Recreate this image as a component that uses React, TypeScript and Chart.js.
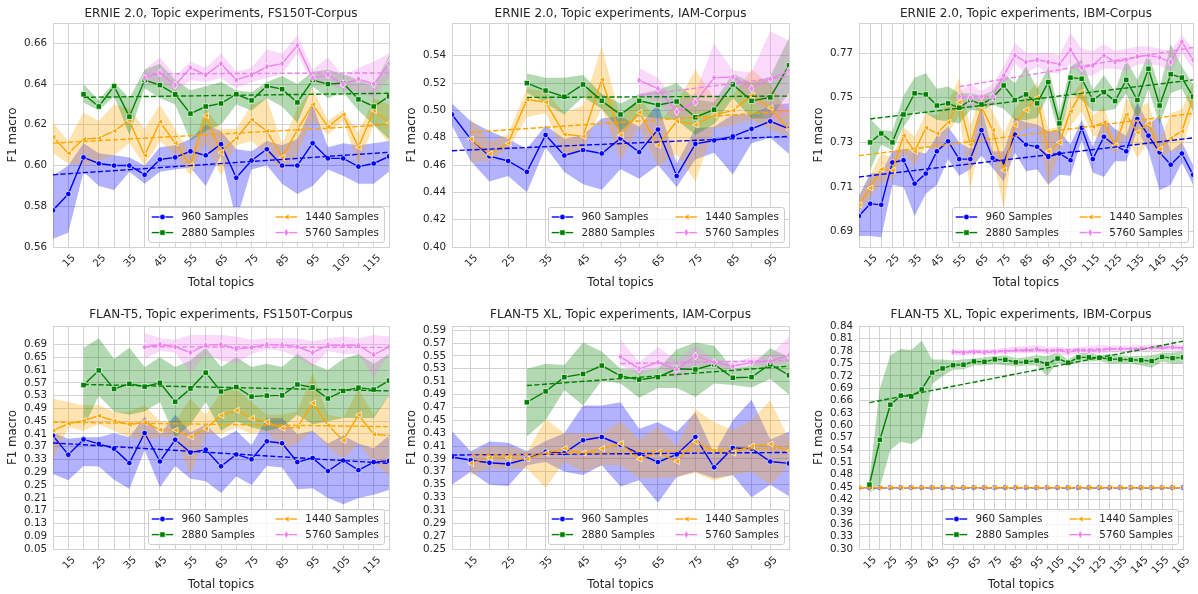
import React, { useEffect, useRef } from 'react';
import { Chart, registerables } from 'chart.js';

Chart.register(...registerables);
Chart.defaults.font.family = '"DejaVu Sans", sans-serif';

// ------------------------------------------------------------------ data
const seriesLabels = ['960 Samples', '1440 Samples', '2880 Samples', '5760 Samples'];
const xAxisLabel = 'Total topics';
const yAxisLabel = 'F1 macro';

// Panel 1 — ERNIE 2.0, FS150T
const p1Title = 'ERNIE 2.0, Topic experiments, FS150T-Corpus';
const p1X = [10, 15, 20, 25, 30, 35, 40, 45, 50, 55, 60, 65, 70, 75, 80, 85, 90, 95, 100, 105, 110, 115, 120];
const p1XLabels = [15, 25, 35, 45, 55, 65, 75, 85, 95, 105, 115];
const p1YTicks = [0.56, 0.58, 0.60, 0.62, 0.64, 0.66];
const p1Blue = [0.578, 0.586, 0.604, 0.601, 0.600, 0.600, 0.5955, 0.603, 0.604, 0.607, 0.605, 0.6105, 0.594, 0.6025, 0.608, 0.600, 0.600, 0.611, 0.6035, 0.6035, 0.5995, 0.601, 0.6045];
const p1BlueLo = [0.564, 0.567, 0.597, 0.590, 0.588, 0.597, 0.591, 0.597, 0.598, 0.599, 0.590, 0.605, 0.573, 0.598, 0.600, 0.591, 0.586, 0.590, 0.598, 0.595, 0.591, 0.591, 0.597];
const p1BlueHi = [0.595, 0.600, 0.611, 0.606, 0.605, 0.604, 0.600, 0.609, 0.610, 0.613, 0.620, 0.617, 0.608, 0.607, 0.612, 0.610, 0.613, 0.630, 0.609, 0.611, 0.610, 0.611, 0.612];
const p1Orange = [0.614, 0.606, 0.613, 0.6135, 0.617, 0.622, 0.605, 0.6215, 0.611, 0.600, 0.6245, 0.6065, 0.6135, 0.6225, 0.617, 0.604, 0.6175, 0.630, 0.619, 0.625, 0.609, 0.627, 0.621];
const p1OrangeLo = [0.606, 0.601, 0.600, 0.602, 0.605, 0.611, 0.600, 0.612, 0.605, 0.595, 0.611, 0.595, 0.610, 0.612, 0.605, 0.597, 0.606, 0.622, 0.615, 0.622, 0.600, 0.620, 0.611];
const p1OrangeHi = [0.621, 0.612, 0.626, 0.622, 0.630, 0.628, 0.618, 0.630, 0.618, 0.606, 0.628, 0.618, 0.618, 0.630, 0.633, 0.611, 0.628, 0.638, 0.622, 0.627, 0.616, 0.633, 0.630];
const p1Green = [null, null, 0.635, 0.629, 0.639, 0.624, 0.642, 0.6395, 0.635, 0.6255, 0.629, 0.6305, 0.635, 0.632, 0.639, 0.6375, 0.631, 0.642, 0.640, 0.6405, 0.6325, 0.629, 0.634];
const p1GreenLo = [null, null, 0.631, 0.627, 0.634, 0.615, 0.638, 0.633, 0.630, 0.612, 0.617, 0.620, 0.630, 0.627, 0.633, 0.629, 0.621, 0.639, 0.633, 0.636, 0.627, 0.620, 0.613];
const p1GreenHi = [null, null, 0.640, 0.632, 0.641, 0.633, 0.647, 0.650, 0.642, 0.637, 0.639, 0.641, 0.637, 0.636, 0.641, 0.644, 0.640, 0.646, 0.647, 0.645, 0.642, 0.639, 0.654];
const p1Pink = [null, null, null, null, null, null, 0.643, 0.6455, 0.6395, 0.648, 0.6445, 0.650, 0.642, 0.6445, 0.6485, 0.650, 0.659, 0.643, 0.6445, 0.640, 0.6425, 0.640, 0.650];
const p1PinkLo = [null, null, null, null, null, null, 0.640, 0.641, 0.636, 0.642, 0.641, 0.643, 0.638, 0.641, 0.643, 0.645, 0.655, 0.640, 0.640, 0.637, 0.636, 0.633, 0.643];
const p1PinkHi = [null, null, null, null, null, null, 0.647, 0.653, 0.644, 0.651, 0.648, 0.655, 0.646, 0.648, 0.657, 0.655, 0.664, 0.647, 0.653, 0.644, 0.648, 0.651, 0.655];
const p1BlueTrend = [0.5955, 0.6065];
const p1OrangeTrend = [0.611, 0.620];
const p1GreenTrend = [0.6335, 0.6355];
const p1PinkTrend = [0.645, 0.6455];

// Panel 2 — ERNIE 2.0, IAM
const p2Title = 'ERNIE 2.0, Topic experiments, IAM-Corpus';
const p2X = [10, 15, 20, 25, 30, 35, 40, 45, 50, 55, 60, 65, 70, 75, 80, 85, 90, 95, 100];
const p2XLabels = [15, 25, 35, 45, 55, 65, 75, 85, 95];
const p2YTicks = [0.40, 0.42, 0.44, 0.46, 0.48, 0.50, 0.52, 0.54];
const p2Blue = [0.497, 0.479, 0.4665, 0.463, 0.455, 0.482, 0.467, 0.471, 0.4685, 0.4795, 0.4695, 0.486, 0.452, 0.4755, 0.478, 0.481, 0.4865, 0.492, 0.4865];
const p2BlueLo = [0.489, 0.463, 0.448, 0.452, 0.440, 0.473, 0.455, 0.446, 0.442, 0.457, 0.450, 0.460, 0.444, 0.464, 0.469, 0.453, 0.476, 0.480, 0.468];
const p2BlueHi = [0.505, 0.492, 0.485, 0.479, 0.472, 0.489, 0.479, 0.482, 0.494, 0.496, 0.488, 0.505, 0.461, 0.487, 0.488, 0.497, 0.497, 0.504, 0.505];
const p2Orange = [null, 0.479, 0.468, 0.476, 0.508, 0.506, 0.4825, 0.481, 0.5225, 0.482, 0.4985, 0.4745, 0.492, 0.4895, 0.4965, 0.500, 0.511, 0.502, 0.486];
const p2OrangeLo = [null, 0.462, 0.463, 0.472, 0.495, 0.498, 0.466, 0.471, 0.502, 0.463, 0.488, 0.459, 0.468, 0.448, 0.487, 0.489, 0.493, 0.486, 0.481];
const p2OrangeHi = [null, 0.494, 0.477, 0.483, 0.516, 0.514, 0.498, 0.504, 0.547, 0.494, 0.510, 0.491, 0.505, 0.530, 0.509, 0.511, 0.530, 0.519, 0.497];
const p2Green = [null, null, null, null, 0.520, 0.5145, 0.510, 0.519, 0.507, 0.497, 0.507, 0.504, 0.5065, 0.495, 0.5005, 0.519, 0.507, 0.5095, 0.533];
const p2GreenLo = [null, null, null, null, 0.513, 0.505, 0.497, 0.510, 0.501, 0.485, 0.496, 0.494, 0.493, 0.482, 0.490, 0.509, 0.494, 0.494, 0.513];
const p2GreenHi = [null, null, null, null, 0.527, 0.524, 0.524, 0.526, 0.512, 0.505, 0.512, 0.515, 0.520, 0.508, 0.506, 0.527, 0.520, 0.525, 0.553];
const p2Pink = [null, null, null, null, null, null, null, null, null, null, 0.522, 0.516, 0.499, 0.506, 0.524, 0.5245, 0.516, 0.523, 0.529];
const p2PinkLo = [null, null, null, null, null, null, null, null, null, null, 0.512, 0.505, 0.491, 0.499, 0.500, 0.520, 0.507, 0.490, 0.498];
const p2PinkHi = [null, null, null, null, null, null, null, null, null, null, 0.531, 0.524, 0.506, 0.513, 0.549, 0.529, 0.528, 0.558, 0.551];
const p2BlueTrend = [0.4705, 0.481];
const p2OrangeTrend = [0.484, 0.4995];
const p2GreenTrend = [0.5095, 0.5105];
const p2PinkTrend = [0.511, 0.525];

// Panel 3 — ERNIE 2.0, IBM
const p3Title = 'ERNIE 2.0, Topic experiments, IBM-Corpus';
const p3X = [10, 15, 20, 25, 30, 35, 40, 45, 50, 55, 60, 65, 70, 75, 80, 85, 90, 95, 100, 105, 110, 115, 120, 125, 130, 135, 140, 145, 150, 155, 160];
const p3XLabels = [15, 25, 35, 45, 55, 65, 75, 85, 95, 105, 115, 125, 135, 145, 155];
const p3YTicks = [0.69, 0.71, 0.73, 0.75, 0.77];
const p3Blue = [0.697, 0.7025, 0.702, 0.721, 0.722, 0.7115, 0.716, 0.726, 0.7305, 0.7225, 0.7225, 0.7355, 0.723, 0.721, 0.7335, 0.729, 0.728, 0.7235, 0.725, 0.722, 0.7365, 0.7225, 0.7325, 0.7285, 0.726, 0.7405, 0.733, 0.7255, 0.720, 0.725, 0.7155];
const p3BlueLo = [0.688, 0.688, 0.6875, 0.711, 0.710, 0.697, 0.707, 0.711, 0.7225, 0.715, 0.718, 0.724, 0.7185, 0.7125, 0.7255, 0.717, 0.718, 0.711, 0.7155, 0.715, 0.731, 0.7165, 0.7145, 0.7215, 0.7215, 0.7355, 0.726, 0.7085, 0.711, 0.721, 0.711];
const p3BlueHi = [0.706, 0.716, 0.7165, 0.726, 0.727, 0.726, 0.725, 0.733, 0.737, 0.730, 0.727, 0.746, 0.726, 0.726, 0.741, 0.739, 0.738, 0.735, 0.735, 0.729, 0.740, 0.728, 0.7405, 0.736, 0.733, 0.748, 0.738, 0.742, 0.726, 0.730, 0.720];
const p3Orange = [0.702, 0.7095, 0.718, 0.7175, 0.733, 0.726, 0.7365, 0.734, 0.739, 0.748, 0.729, 0.746, 0.7355, 0.7175, 0.738, 0.7445, 0.750, 0.726, 0.730, 0.744, 0.7525, 0.737, 0.739, 0.7285, 0.7425, 0.7345, 0.7385, 0.727, 0.732, 0.735, 0.750];
const p3OrangeLo = [0.699, 0.705, 0.712, 0.713, 0.725, 0.7195, 0.728, 0.726, 0.734, 0.742, 0.709, 0.734, 0.724, 0.700, 0.733, 0.736, 0.737, 0.710, 0.726, 0.737, 0.744, 0.733, 0.7315, 0.7245, 0.733, 0.723, 0.730, 0.7225, 0.726, 0.727, 0.7435];
const p3OrangeHi = [0.706, 0.715, 0.725, 0.723, 0.737, 0.7325, 0.743, 0.742, 0.748, 0.759, 0.737, 0.753, 0.744, 0.734, 0.745, 0.751, 0.757, 0.736, 0.737, 0.750, 0.757, 0.742, 0.746, 0.731, 0.750, 0.745, 0.748, 0.730, 0.743, 0.745, 0.757];
const p3Green = [null, 0.730, 0.734, 0.730, 0.7425, 0.752, 0.7515, 0.7465, 0.7475, 0.7455, 0.749, 0.747, 0.750, 0.7555, 0.749, 0.7515, 0.7475, 0.757, 0.7385, 0.759, 0.7585, 0.749, 0.7525, 0.7485, 0.758, 0.749, 0.763, 0.7465, 0.7605, 0.759, 0.7505];
const p3GreenLo = [null, 0.7175, 0.729, 0.7265, 0.737, 0.744, 0.743, 0.740, 0.7395, 0.7385, 0.7445, 0.744, 0.747, 0.745, 0.740, 0.740, 0.741, 0.751, 0.733, 0.752, 0.749, 0.744, 0.744, 0.745, 0.752, 0.740, 0.754, 0.738, 0.752, 0.754, 0.744];
const p3GreenHi = [null, 0.7405, 0.7355, 0.735, 0.751, 0.759, 0.761, 0.754, 0.755, 0.752, 0.752, 0.751, 0.753, 0.761, 0.7565, 0.764, 0.754, 0.7635, 0.743, 0.764, 0.767, 0.7535, 0.760, 0.753, 0.767, 0.758, 0.770, 0.754, 0.774, 0.764, 0.756];
const p3Pink = [null, null, null, null, null, null, null, null, null, 0.7505, 0.750, 0.7505, 0.7505, 0.760, 0.769, 0.766, 0.767, 0.766, 0.765, 0.7715, 0.7635, 0.7645, 0.769, 0.766, 0.767, 0.7685, 0.769, 0.768, 0.766, 0.775, 0.767];
const p3PinkLo = [null, null, null, null, null, null, null, null, null, 0.747, 0.745, 0.7475, 0.746, 0.755, 0.765, 0.761, 0.764, 0.761, 0.761, 0.765, 0.760, 0.760, 0.763, 0.763, 0.762, 0.765, 0.765, 0.7645, 0.762, 0.770, 0.763];
const p3PinkHi = [null, null, null, null, null, null, null, null, null, 0.753, 0.756, 0.753, 0.756, 0.764, 0.7745, 0.770, 0.770, 0.770, 0.769, 0.779, 0.772, 0.771, 0.774, 0.771, 0.772, 0.773, 0.773, 0.772, 0.771, 0.778, 0.772];
const p3BlueTrend = [0.7145, 0.732];
const p3OrangeTrend = [0.724, 0.743];
const p3GreenTrend = [0.7405, 0.758];
const p3PinkTrend = [0.755, 0.7725];

// Panel 4 — FLAN-T5, FS150T
const p4Title = 'FLAN-T5, Topic experiments, FS150T-Corpus';
const p4X = [10, 15, 20, 25, 30, 35, 40, 45, 50, 55, 60, 65, 70, 75, 80, 85, 90, 95, 100, 105, 110, 115, 120];
const p4XLabels = [15, 25, 35, 45, 55, 65, 75, 85, 95, 105, 115];
const p4YTicks = [0.05, 0.09, 0.13, 0.17, 0.21, 0.25, 0.29, 0.33, 0.37, 0.41, 0.45, 0.49, 0.53, 0.57, 0.61, 0.65, 0.69];
const p4Blue = [0.405, 0.345, 0.393, 0.379, 0.364, 0.319, 0.413, 0.324, 0.392, 0.352, 0.361, 0.309, 0.346, 0.331, 0.387, 0.381, 0.322, 0.335, 0.294, 0.327, 0.297, 0.322, 0.326];
const p4BlueLo = [0.285, 0.265, 0.310, 0.308, 0.267, 0.238, 0.360, 0.243, 0.310, 0.270, 0.262, 0.225, 0.277, 0.250, 0.310, 0.305, 0.237, 0.240, 0.210, 0.190, 0.210, 0.220, 0.235];
const p4BlueHi = [0.415, 0.395, 0.400, 0.400, 0.412, 0.400, 0.465, 0.410, 0.470, 0.415, 0.440, 0.395, 0.420, 0.375, 0.460, 0.460, 0.410, 0.420, 0.380, 0.405, 0.380, 0.365, 0.405];
const p4Orange = [0.421, 0.442, 0.452, 0.467, 0.451, 0.439, 0.447, 0.423, 0.422, 0.401, 0.427, 0.468, 0.484, 0.459, 0.448, 0.428, 0.431, 0.507, 0.437, 0.390, 0.470, 0.409, 0.405];
const p4OrangeLo = [0.330, 0.430, 0.420, 0.440, 0.420, 0.400, 0.390, 0.400, 0.400, 0.280, 0.410, 0.410, 0.430, 0.410, 0.420, 0.360, 0.380, 0.420, 0.370, 0.330, 0.380, 0.320, 0.280];
const p4OrangeHi = [0.520, 0.510, 0.500, 0.500, 0.480, 0.480, 0.500, 0.450, 0.450, 0.520, 0.470, 0.540, 0.550, 0.510, 0.470, 0.470, 0.480, 0.600, 0.470, 0.460, 0.550, 0.470, 0.530];
const p4Green = [null, null, 0.563, 0.609, 0.551, 0.567, 0.558, 0.570, 0.511, 0.552, 0.602, 0.543, 0.557, 0.527, 0.530, 0.531, 0.565, 0.556, 0.521, 0.545, 0.555, 0.549, 0.577];
const p4GreenLo = [null, null, 0.430, 0.530, 0.480, 0.470, 0.480, 0.510, 0.400, 0.440, 0.510, 0.420, 0.450, 0.430, 0.420, 0.430, 0.470, 0.440, 0.450, 0.460, 0.460, 0.460, 0.530];
const p4GreenHi = [null, null, 0.680, 0.710, 0.645, 0.680, 0.620, 0.650, 0.620, 0.640, 0.680, 0.620, 0.650, 0.620, 0.630, 0.620, 0.660, 0.630, 0.610, 0.645, 0.660, 0.630, 0.660];
const p4Pink = [null, null, null, null, null, null, 0.682, 0.690, 0.683, 0.665, 0.688, 0.690, 0.676, 0.681, 0.690, 0.689, 0.683, 0.665, 0.688, 0.687, 0.687, 0.658, 0.683];
const p4PinkLo = [null, null, null, null, null, null, 0.645, 0.670, 0.665, 0.600, 0.660, 0.640, 0.630, 0.660, 0.675, 0.670, 0.650, 0.620, 0.670, 0.660, 0.660, 0.585, 0.660];
const p4PinkHi = [null, null, null, null, null, null, 0.725, 0.710, 0.705, 0.720, 0.720, 0.720, 0.715, 0.705, 0.710, 0.710, 0.710, 0.700, 0.710, 0.715, 0.710, 0.720, 0.715];
const p4BlueTrend = [0.382, 0.318];
const p4OrangeTrend = [0.447, 0.433];
const p4GreenTrend = [0.565, 0.545];
const p4PinkTrend = [0.683, 0.681];

// Panel 5 — FLAN-T5 XL, IAM
const p5Title = 'FLAN-T5 XL, Topic experiments, IAM-Corpus';
const p5X = [10, 15, 20, 25, 30, 35, 40, 45, 50, 55, 60, 65, 70, 75, 80, 85, 90, 95, 100];
const p5XLabels = [15, 25, 35, 45, 55, 65, 75, 85, 95];
const p5YTicks = [0.25, 0.27, 0.29, 0.31, 0.33, 0.35, 0.37, 0.39, 0.41, 0.43, 0.45, 0.47, 0.49, 0.51, 0.53, 0.55, 0.57, 0.59];
const p5Blue = [0.393, 0.388, 0.384, 0.382, 0.390, 0.401, 0.399, 0.419, 0.424, 0.412, 0.398, 0.385, 0.397, 0.424, 0.377, 0.407, 0.406, 0.386, 0.383];
const p5BlueLo = [0.350, 0.370, 0.350, 0.348, 0.380, 0.385, 0.370, 0.365, 0.380, 0.347, 0.357, 0.322, 0.362, 0.370, 0.360, 0.365, 0.330, 0.350, 0.332];
const p5BlueHi = [0.433, 0.402, 0.417, 0.415, 0.402, 0.418, 0.430, 0.473, 0.473, 0.478, 0.437, 0.447, 0.432, 0.462, 0.398, 0.450, 0.482, 0.420, 0.432];
const p5Orange = [null, 0.383, 0.392, 0.392, 0.390, 0.399, 0.406, 0.399, 0.406, 0.414, 0.390, 0.400, 0.386, 0.417, 0.402, 0.399, 0.410, 0.413, 0.402];
const p5OrangeLo = [null, 0.365, 0.375, 0.375, 0.375, 0.345, 0.385, 0.370, 0.380, 0.380, 0.360, 0.360, 0.362, 0.368, 0.356, 0.365, 0.370, 0.350, 0.380];
const p5OrangeHi = [null, 0.400, 0.410, 0.410, 0.400, 0.452, 0.430, 0.430, 0.430, 0.448, 0.420, 0.440, 0.410, 0.467, 0.447, 0.435, 0.450, 0.481, 0.420];
const p5Green = [null, null, null, null, 0.478, 0.495, 0.517, 0.522, 0.535, 0.519, 0.513, 0.517, 0.530, 0.529, 0.537, 0.516, 0.517, 0.537, 0.520];
const p5GreenLo = [null, null, null, null, 0.425, 0.450, 0.497, 0.473, 0.512, 0.507, 0.485, 0.500, 0.500, 0.486, 0.507, 0.505, 0.501, 0.514, 0.490];
const p5GreenHi = [null, null, null, null, 0.530, 0.538, 0.536, 0.571, 0.557, 0.530, 0.528, 0.530, 0.560, 0.571, 0.566, 0.530, 0.535, 0.562, 0.548];
const p5Pink = [null, null, null, null, null, null, null, null, null, 0.549, 0.530, 0.540, 0.529, 0.550, 0.540, 0.534, 0.540, 0.542, 0.551];
const p5PinkLo = [null, null, null, null, null, null, null, null, null, 0.536, 0.520, 0.532, 0.515, 0.533, 0.535, 0.528, 0.536, 0.533, 0.541];
const p5PinkHi = [null, null, null, null, null, null, null, null, null, 0.575, 0.540, 0.564, 0.543, 0.567, 0.545, 0.540, 0.548, 0.552, 0.580];
const p5BlueTrend = [0.396, 0.400];
const p5OrangeTrend = [0.395, 0.407];
const p5GreenTrend = [0.504, 0.534];
const p5PinkTrend = [0.538, 0.543];

// Panel 6 — FLAN-T5 XL, IBM
const p6Title = 'FLAN-T5 XL, Topic experiments, IBM-Corpus';
const p6X = [10, 15, 20, 25, 30, 35, 40, 45, 50, 55, 60, 65, 70, 75, 80, 85, 90, 95, 100, 105, 110, 115, 120, 125, 130, 135, 140, 145, 150, 155, 160, 165];
const p6XLabels = [15, 25, 35, 45, 55, 65, 75, 85, 95, 105, 115, 125, 135, 145, 155, 165];
const p6YTicks = [0.30, 0.33, 0.36, 0.39, 0.42, 0.45, 0.48, 0.51, 0.54, 0.57, 0.60, 0.63, 0.66, 0.69, 0.72, 0.75, 0.78, 0.81, 0.84];
const p6Blue = [0.449, 0.449, 0.449, 0.449, 0.449, 0.449, 0.449, 0.449, 0.449, 0.449, 0.449, 0.449, 0.449, 0.449, 0.449, 0.449, 0.449, 0.449, 0.449, 0.449, 0.449, 0.449, 0.449, 0.449, 0.449, 0.449, 0.449, 0.449, 0.449, 0.449, 0.449, 0.449];
const p6Orange = [0.449, 0.449, 0.449, 0.449, 0.449, 0.449, 0.449, 0.449, 0.449, 0.449, 0.449, 0.449, 0.449, 0.449, 0.449, 0.449, 0.449, 0.449, 0.449, 0.449, 0.449, 0.449, 0.449, 0.449, 0.449, 0.449, 0.449, 0.449, 0.449, 0.449, 0.449, 0.449];
const p6Green = [null, 0.456, 0.565, 0.650, 0.672, 0.670, 0.687, 0.728, 0.738, 0.746, 0.747, 0.755, 0.754, 0.760, 0.759, 0.753, 0.754, 0.757, 0.749, 0.762, 0.752, 0.765, 0.765, 0.764, 0.761, 0.760, 0.759, 0.758, 0.756, 0.766, 0.763, 0.765];
const p6GreenLo = [null, 0.437, 0.450, 0.540, 0.560, 0.555, 0.570, 0.700, 0.720, 0.735, 0.736, 0.745, 0.745, 0.748, 0.746, 0.743, 0.745, 0.745, 0.720, 0.752, 0.745, 0.755, 0.755, 0.756, 0.750, 0.750, 0.750, 0.745, 0.740, 0.755, 0.750, 0.750];
const p6GreenHi = [null, 0.470, 0.690, 0.770, 0.785, 0.783, 0.805, 0.760, 0.760, 0.757, 0.760, 0.762, 0.765, 0.768, 0.770, 0.763, 0.765, 0.770, 0.768, 0.776, 0.760, 0.774, 0.776, 0.770, 0.773, 0.770, 0.768, 0.768, 0.770, 0.776, 0.776, 0.780];
const p6Pink = [null, null, null, null, null, null, null, null, null, 0.778, 0.776, 0.778, 0.777, 0.778, 0.780, 0.783, 0.783, 0.785, 0.781, 0.782, 0.778, 0.782, 0.781, 0.782, 0.785, 0.786, 0.785, 0.786, 0.788, 0.789, 0.790, 0.787];
const p6PinkLo = [null, null, null, null, null, null, null, null, null, 0.770, 0.770, 0.772, 0.771, 0.772, 0.773, 0.775, 0.775, 0.776, 0.772, 0.773, 0.770, 0.774, 0.773, 0.774, 0.777, 0.778, 0.777, 0.778, 0.780, 0.781, 0.782, 0.779];
const p6PinkHi = [null, null, null, null, null, null, null, null, null, 0.785, 0.783, 0.785, 0.784, 0.785, 0.788, 0.792, 0.792, 0.795, 0.790, 0.791, 0.787, 0.790, 0.792, 0.795, 0.793, 0.794, 0.793, 0.794, 0.796, 0.797, 0.798, 0.795];
const p6BlueTrend = [0.449, 0.449];
const p6OrangeTrend = [0.449, 0.449];
const p6GreenTrend = [0.655, 0.804];
const p6PinkTrend = [0.7785, 0.7885];

// ------------------------------------------------------------------ styles
const COLORS = ['#0000ff', '#ffa500', '#008000', '#ee82ee'];
const BANDS = ['rgba(0,0,255,0.3)', 'rgba(255,165,0,0.3)', 'rgba(0,128,0,0.3)', 'rgba(238,130,238,0.3)'];
const MARKERS = ['circle', 'triangleLeft', 'square', 'thinDiamond'];
const TEXT = '#262626';
const GRID = '#d2d2d2';
const TICK_FONT = 10.3;
const LABEL_FONT = 11.8;
const TITLE_FONT = 12;
const LINE_W = 1.4;
const Y_AXIS_W = 53;

const panels: any[] = [
  { title: p1Title, x: p1X, xLabels: p1XLabels, yMin: 0.56, yMax: 0.670, yTicks: p1YTicks,
    series: [
      { y: p1Blue, lo: p1BlueLo, hi: p1BlueHi, trend: p1BlueTrend },
      { y: p1Orange, lo: p1OrangeLo, hi: p1OrangeHi, trend: p1OrangeTrend },
      { y: p1Green, lo: p1GreenLo, hi: p1GreenHi, trend: p1GreenTrend },
      { y: p1Pink, lo: p1PinkLo, hi: p1PinkHi, trend: p1PinkTrend },
    ] },
  { title: p2Title, x: p2X, xLabels: p2XLabels, yMin: 0.40, yMax: 0.564, yTicks: p2YTicks,
    series: [
      { y: p2Blue, lo: p2BlueLo, hi: p2BlueHi, trend: p2BlueTrend },
      { y: p2Orange, lo: p2OrangeLo, hi: p2OrangeHi, trend: p2OrangeTrend },
      { y: p2Green, lo: p2GreenLo, hi: p2GreenHi, trend: p2GreenTrend },
      { y: p2Pink, lo: p2PinkLo, hi: p2PinkHi, trend: p2PinkTrend },
    ] },
  { title: p3Title, x: p3X, xLabels: p3XLabels, yMin: 0.6831, yMax: 0.7835, yTicks: p3YTicks,
    series: [
      { y: p3Blue, lo: p3BlueLo, hi: p3BlueHi, trend: p3BlueTrend },
      { y: p3Orange, lo: p3OrangeLo, hi: p3OrangeHi, trend: p3OrangeTrend },
      { y: p3Green, lo: p3GreenLo, hi: p3GreenHi, trend: p3GreenTrend },
      { y: p3Pink, lo: p3PinkLo, hi: p3PinkHi, trend: p3PinkTrend },
    ] },
  { title: p4Title, x: p4X, xLabels: p4XLabels, yMin: 0.05, yMax: 0.748, yTicks: p4YTicks,
    series: [
      { y: p4Blue, lo: p4BlueLo, hi: p4BlueHi, trend: p4BlueTrend },
      { y: p4Orange, lo: p4OrangeLo, hi: p4OrangeHi, trend: p4OrangeTrend },
      { y: p4Green, lo: p4GreenLo, hi: p4GreenHi, trend: p4GreenTrend },
      { y: p4Pink, lo: p4PinkLo, hi: p4PinkHi, trend: p4PinkTrend },
    ] },
  { title: p5Title, x: p5X, xLabels: p5XLabels, yMin: 0.25, yMax: 0.5965, yTicks: p5YTicks,
    series: [
      { y: p5Blue, lo: p5BlueLo, hi: p5BlueHi, trend: p5BlueTrend },
      { y: p5Orange, lo: p5OrangeLo, hi: p5OrangeHi, trend: p5OrangeTrend },
      { y: p5Green, lo: p5GreenLo, hi: p5GreenHi, trend: p5GreenTrend },
      { y: p5Pink, lo: p5PinkLo, hi: p5PinkHi, trend: p5PinkTrend },
    ] },
  { title: p6Title, x: p6X, xLabels: p6XLabels, yMin: 0.30, yMax: 0.841, yTicks: p6YTicks,
    series: [
      { y: p6Blue, lo: null, hi: null, trend: p6BlueTrend },
      { y: p6Orange, lo: null, hi: null, trend: p6OrangeTrend },
      { y: p6Green, lo: p6GreenLo, hi: p6GreenHi, trend: p6GreenTrend },
      { y: p6Pink, lo: p6PinkLo, hi: p6PinkHi, trend: p6PinkTrend },
    ] },
];

// plot-area boxes (page pixels)
const boxes = [
  { pl: 53, pr: 389, pt: 23, pb: 247, ct: 0, cb: 298, titleY: 14 },
  { pl: 452, pr: 789, pt: 23, pb: 247, ct: 0, cb: 298, titleY: 14 },
  { pl: 859, pr: 1193, pt: 23, pb: 247, ct: 0, cb: 298, titleY: 14 },
  { pl: 53, pr: 389, pt: 326, pb: 549, ct: 302, cb: 594, titleY: 315 },
  { pl: 452, pr: 789, pt: 326, pb: 549, ct: 302, cb: 594, titleY: 315 },
  { pl: 859, pr: 1183, pt: 326, pb: 549, ct: 302, cb: 594, titleY: 315 },
];

// ------------------------------------------------------------------ drawing helpers
function drawMarker(ctx: CanvasRenderingContext2D, kind: string, x: number, y: number, color: string) {
  ctx.save();
  ctx.fillStyle = color;
  ctx.strokeStyle = '#ffffff';
  ctx.lineWidth = 0.7;
  ctx.beginPath();
  if (kind === 'circle') {
    ctx.arc(x, y, 2.8, 0, Math.PI * 2);
  } else if (kind === 'square') {
    ctx.rect(x - 2.7, y - 2.7, 5.4, 5.4);
  } else if (kind === 'triangleLeft') {
    ctx.moveTo(x - 3.0, y);
    ctx.lineTo(x + 2.8, y - 3.0);
    ctx.lineTo(x + 2.8, y + 3.0);
    ctx.closePath();
  } else {
    ctx.moveTo(x, y - 4.0);
    ctx.lineTo(x + 2.4, y);
    ctx.lineTo(x, y + 4.0);
    ctx.lineTo(x - 2.4, y);
    ctx.closePath();
  }
  ctx.fill();
  ctx.stroke();
  ctx.restore();
}

function roundRectPath(ctx: CanvasRenderingContext2D, x: number, y: number, w: number, h: number, r: number) {
  ctx.moveTo(x + r, y);
  ctx.lineTo(x + w - r, y);
  ctx.arcTo(x + w, y, x + w, y + r, r);
  ctx.lineTo(x + w, y + h - r);
  ctx.arcTo(x + w, y + h, x + w - r, y + h, r);
  ctx.lineTo(x + r, y + h);
  ctx.arcTo(x, y + h, x, y + h - r, r);
  ctx.lineTo(x, y + r);
  ctx.arcTo(x, y, x + r, y, r);
  ctx.closePath();
}

const markerPlugin = {
  id: 'seriesMarkers',
  afterDatasetDraw(chart: any, args: any) {
    const ds = chart.data.datasets[args.index];
    if (!ds.markerKind) return;
    const { ctx, chartArea: a } = chart;
    ctx.save();
    ctx.beginPath();
    ctx.rect(a.left, a.top, a.right - a.left, a.bottom - a.top);
    ctx.clip();
    for (const el of args.meta.data) drawMarker(ctx, ds.markerKind, el.x, el.y, ds.markerColor);
    ctx.restore();
  },
};

const framePlugin = {
  id: 'axesFrame',
  beforeDatasetsDraw(chart: any) {
    const { ctx, chartArea: a } = chart;
    ctx.save();
    ctx.strokeStyle = GRID;
    ctx.lineWidth = 1;
    ctx.strokeRect(Math.round(a.left) + 0.5, Math.round(a.top) + 0.5, Math.round(a.right - a.left), Math.round(a.bottom - a.top));
    ctx.restore();
  },
};

const legendPlugin = {
  id: 'cornerLegend',
  afterDraw(chart: any) {
    const { ctx, chartArea: a } = chart;
    ctx.save();
    ctx.font = `${TICK_FONT}px "DejaVu Sans", sans-serif`;
    const cols = [[0, 2], [1, 3]];
    const widths = cols.map((c) => Math.max(...c.map((i) => ctx.measureText(seriesLabels[i]).width)));
    const padL = 3.5, hl = 21.5, tp = 8.3, cs = 20.6, padR = 5.7, h = 35;
    const w = padL + hl + tp + widths[0] + cs + hl + tp + widths[1] + padR;
    const x0 = a.right - 4.5 - w;
    const y0 = a.bottom - 5 - h;
    ctx.beginPath();
    roundRectPath(ctx, Math.round(x0) + 0.5, Math.round(y0) + 0.5, Math.round(w), Math.round(h), 2.5);
    ctx.fillStyle = 'rgba(255,255,255,0.8)';
    ctx.fill();
    ctx.strokeStyle = '#cccccc';
    ctx.lineWidth = 1;
    ctx.stroke();
    const rows = [y0 + 10, y0 + 25.6];
    let cx = x0 + padL;
    cols.forEach((c, ci) => {
      c.forEach((si, ri) => {
        const y = rows[ri];
        ctx.strokeStyle = COLORS[si];
        ctx.lineWidth = LINE_W;
        ctx.beginPath();
        ctx.moveTo(cx, y);
        ctx.lineTo(cx + hl, y);
        ctx.stroke();
        drawMarker(ctx, MARKERS[si], cx + hl / 2, y, COLORS[si]);
        ctx.fillStyle = TEXT;
        ctx.textBaseline = 'middle';
        ctx.textAlign = 'left';
        ctx.fillText(seriesLabels[si], cx + hl + tp, y + 0.5);
      });
      cx += hl + tp + widths[ci] + cs;
    });
    ctx.restore();
  },
};

function makeConfig(p: any, b: any, cw: number) {
  const padR = cw - Y_AXIS_W - (b.pr - b.pl);
  const titleBox = b.pt - b.ct;
  const xAxisH = b.cb - b.pb;
  const titleLH = TITLE_FONT * 1.2;
  const titlePadTop = b.titleY - b.ct - titleLH / 2;
  const titlePadBottom = titleBox - titleLH - titlePadTop;
  const labelLH = LABEL_FONT * 1.2;
  const xTitlePadBottom = xAxisH - 36 - labelLH / 2;
  const yTitlePadTop = 13 - labelLH / 2;

  const datasets: any[] = [];
  p.series.forEach((s: any, k: number) => {
    const pts = (arr: any[]) => p.x.map((xv: number, i: number) => (arr[i] == null ? null : { x: xv, y: arr[i] })).filter(Boolean);
    if (s.lo && s.hi) {
      datasets.push({ data: pts(s.hi), fill: '+1', backgroundColor: BANDS[k], borderColor: 'transparent', borderWidth: 0, pointRadius: 0, order: 30 - k });
      datasets.push({ data: pts(s.lo), fill: false, borderColor: 'transparent', borderWidth: 0, pointRadius: 0, order: 30 - k });
    }
    const main = pts(s.y);
    datasets.push({ data: main, borderColor: COLORS[k], borderWidth: LINE_W, pointRadius: 0, fill: false, order: 20 - k, markerKind: MARKERS[k], markerColor: COLORS[k] });
    datasets.push({
      data: [{ x: main[0].x, y: s.trend[0] }, { x: main[main.length - 1].x, y: s.trend[1] }],
      borderColor: COLORS[k], borderWidth: LINE_W, borderDash: [5.2, 2.3], pointRadius: 0, fill: false, order: 10 - k,
    });
  });

  return {
    type: 'line',
    data: { datasets },
    options: {
      responsive: false,
      animation: false,
      devicePixelRatio: 1,
      events: [],
      layout: { padding: { left: 0, right: padR, top: 0, bottom: 0 } },
      plugins: {
        legend: { display: false },
        tooltip: { enabled: false },
        title: {
          display: true, text: p.title, fullSize: false, color: TEXT,
          font: { size: TITLE_FONT, weight: 'normal' },
          padding: { top: titlePadTop, bottom: titlePadBottom },
        },
      },
      scales: {
        x: {
          type: 'linear',
          min: p.x[0],
          max: p.x[p.x.length - 1],
          afterBuildTicks: (scale: any) => { scale.ticks = p.x.map((v: number) => ({ value: v })); },
          afterFit: (scale: any) => { scale.height = xAxisH; scale.paddingLeft = 0; scale.paddingRight = 0; },
          ticks: {
            autoSkip: false, minRotation: 45, maxRotation: 45, padding: 5, labelOffset: 5.5,
            color: TEXT, font: { size: TICK_FONT },
            callback: (v: any) => (p.xLabels.includes(v) ? String(v) : ''),
          },
          grid: { color: GRID, lineWidth: 1, drawTicks: false },
          border: { display: false },
          title: { display: true, text: xAxisLabel, color: TEXT, font: { size: LABEL_FONT }, padding: { top: 0, bottom: xTitlePadBottom } },
        },
        y: {
          type: 'linear',
          min: p.yMin,
          max: p.yMax,
          afterBuildTicks: (scale: any) => { scale.ticks = p.yTicks.map((v: number) => ({ value: v })); },
          afterFit: (scale: any) => { scale.width = Y_AXIS_W; scale.paddingTop = 0; scale.paddingBottom = 0; },
          ticks: { autoSkip: false, padding: 6, color: TEXT, font: { size: TICK_FONT }, callback: (v: any) => Number(v).toFixed(2) },
          grid: { color: GRID, lineWidth: 1, drawTicks: false },
          border: { display: false },
          title: { display: true, text: yAxisLabel, color: TEXT, font: { size: LABEL_FONT }, padding: { top: yTitlePadTop, bottom: 0 } },
        },
      },
    },
    plugins: [framePlugin, markerPlugin, legendPlugin],
  };
}

function PanelChart({ panel, box }: { panel: any; box: any }) {
  const ref = useRef<HTMLCanvasElement | null>(null);
  const cl = box.pl - Y_AXIS_W;
  const cr = Math.min(box.pr + 6, 1198);
  const cw = cr - cl;
  const ch = box.cb - box.ct;
  useEffect(() => {
    const chart = new Chart(ref.current as HTMLCanvasElement, makeConfig(panel, box, cw) as any);
    return () => chart.destroy();
  }, []);
  return (
    <canvas
      ref={ref}
      width={cw}
      height={ch}
      style={{ position: 'absolute', left: cl, top: box.ct, width: cw, height: ch, display: 'block' }}
    />
  );
}

export default function App() {
  return (
    <div style={{ position: 'absolute', left: 0, top: 0, width: 1198, height: 594, background: '#ffffff', overflow: 'hidden' }}>
      {panels.map((p, i) => (
        <PanelChart key={i} panel={p} box={boxes[i]} />
      ))}
    </div>
  );
}
